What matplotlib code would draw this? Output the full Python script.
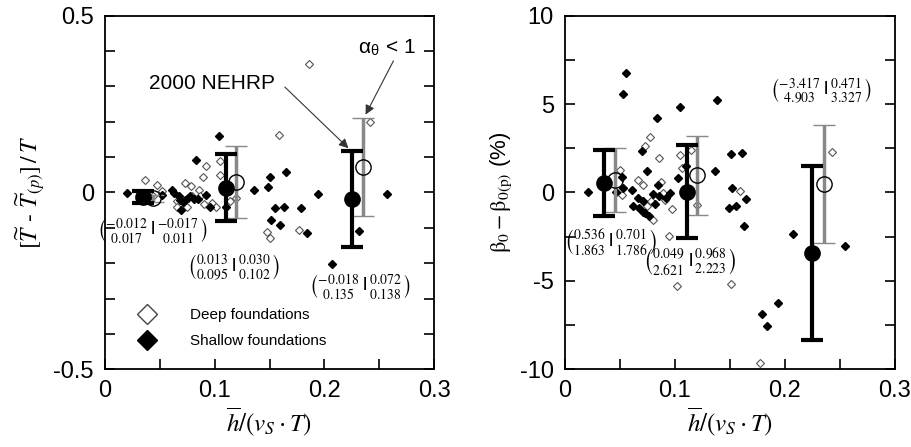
import matplotlib
matplotlib.use("Agg")
import matplotlib.pyplot as plt
from matplotlib.lines import Line2D
from matplotlib.ticker import MultipleLocator

plt.rcParams['font.family'] = ['Liberation Sans', 'DejaVu Sans']
plt.rcParams['mathtext.fontset'] = 'stix'

# ---- left panel: period error ----
shallow_x_T = [0.0198, 0.032, 0.038, 0.0524, 0.0609, 0.063, 0.067, 0.0685, 0.0694, 0.071,
               0.073, 0.0755, 0.0777, 0.0807, 0.083, 0.0847, 0.0923, 0.0953, 0.104, 0.110,
               0.136, 0.149, 0.1508, 0.151, 0.155, 0.160, 0.163, 0.165, 0.179, 0.184,
               0.194, 0.207, 0.232, 0.257]
shallow_y_T = [-0.002, -0.011, -0.016, -0.007, 0.006, -0.002, -0.011, -0.021, -0.049, -0.028,
               -0.021, -0.017, -0.011, -0.019, 0.092, -0.019, -0.007, -0.040, 0.160, -0.040,
               0.008, 0.014, 0.043, -0.077, -0.044, -0.091, -0.041, 0.058, -0.045, -0.115,
               -0.005, -0.202, -0.110, -0.004]
deep_x_T = [0.0362, 0.0478, 0.0435, 0.052, 0.0655, 0.066, 0.0725, 0.0746, 0.0786, 0.079,
            0.086, 0.0868, 0.0892, 0.0898, 0.0923, 0.0975, 0.1014, 0.1045, 0.105, 0.114,
            0.1197, 0.159, 0.1477, 0.1508, 0.1767, 0.1858, 0.242]
deep_y_T = [0.034, 0.020, -0.011, 0.003, -0.025, -0.040, 0.026, -0.040, 0.017, -0.011,
            0.008, -0.011, 0.045, -0.032, 0.076, -0.030, -0.041, 0.090, 0.048, -0.025,
            -0.015, 0.163, -0.112, -0.129, -0.106, 0.363, 0.198]

# bin statistics (mean, std): black = 2000 NEHRP, gray = alpha_theta < 1
nehrp_x_T = [0.035, 0.110, 0.2248]
nehrp_mean_T = [-0.012, 0.013, -0.018]
nehrp_std_T = [0.017, 0.095, 0.135]
alpha_x_T = [0.044, 0.1197, 0.2354]
alpha_mean_T = [-0.017, 0.030, 0.072]
alpha_std_T = [0.011, 0.102, 0.138]

# ---- right panel: damping error ----
shallow_x_B = [0.0206, 0.0464, 0.0515, 0.053, 0.053, 0.0552, 0.0612, 0.0621, 0.0667, 0.0673,
               0.0697, 0.0706, 0.0712, 0.0727, 0.0742, 0.0767, 0.0797, 0.0818, 0.0833, 0.0842,
               0.0858, 0.0918, 0.0955, 0.103, 0.1045, 0.110, 0.136, 0.1385, 0.1506, 0.1515,
               0.1494, 0.1555, 0.1606, 0.163, 0.165, 0.179, 0.184, 0.194, 0.2076, 0.255]
shallow_y_B = [0.0, 0.0, 0.90, 5.56, 0.25, 6.75, 0.11, -0.75, -0.34, -0.90,
               2.32, -1.13, -0.51, -1.17, 1.24, -1.32, -0.09, -0.64, 4.20, 0.43,
               -0.23, -0.32, -0.04, 0.81, 4.83, 1.51, 1.24, 5.24, 2.20, 0.25,
               -0.89, -0.75, 2.24, -1.89, -0.38, -6.88, -7.58, -6.26, -2.36, -3.02]
deep_x_B = [0.050, 0.0515, 0.0667, 0.0706, 0.0727, 0.0773, 0.0742, 0.0782, 0.0803, 0.0858,
            0.0873, 0.0894, 0.0909, 0.0948, 0.0973, 0.1015, 0.1045, 0.106, 0.1142, 0.1197,
            0.1509, 0.159, 0.1773, 0.243]
deep_y_B = [1.28, -0.13, 0.72, 0.43, 2.64, 3.11, -0.79, -0.51, -1.55, 1.94,
            0.57, -0.04, -0.41, -2.49, -0.94, -5.32, 2.13, 1.38, 2.38, -0.70,
            -5.16, 0.06, -9.65, 2.26]

nehrp_x_B = [0.0355, 0.1106, 0.2248]
nehrp_mean_B = [0.536, 0.049, -3.417]
nehrp_std_B = [1.863, 2.621, 4.903]
alpha_x_B = [0.0455, 0.1203, 0.2358]
alpha_mean_B = [0.701, 0.968, 0.471]
alpha_std_B = [1.786, 2.223, 3.327]

fig = plt.figure(figsize=(9.11, 4.47), dpi=100)
axL = fig.add_axes([0.1153, 0.174, 0.3611, 0.791])
axR = fig.add_axes([0.6202, 0.174, 0.3622, 0.791])


def matrix_label(a, b, c, d):
    return (r'$\left(\genfrac{}{}{0}{}{%s}{%s}\,\mathbf{|}\,\genfrac{}{}{0}{}{%s}{%s}\right)$'
            % (a, c, b, d))


def draw_panel(ax, sx, sy, dx, dy, nx, nm, ns, ax_, am, as_):
    ax.plot(dx, dy, 'D', ms=4, mfc='white', mec='#555555', mew=0.8, ls='none', zorder=2)
    ax.plot(sx, sy, 'D', ms=4.5, mfc='black', mec='black', ls='none', zorder=3)
    ax.errorbar(nx, nm, yerr=ns, fmt='o', ms=11, mfc='black', mec='black',
                ecolor='black', elinewidth=3, capsize=8, capthick=3, zorder=5)
    ax.errorbar(ax_, am, yerr=as_, fmt='o', ms=11, mfc='none', mec='black', mew=1,
                ecolor='#888888', elinewidth=2.5, capsize=8, capthick=2.5, zorder=4)
    ax.set_xlim(0, 0.3)
    ax.set_xticks([0, 0.1, 0.2, 0.3])
    ax.set_xticklabels(['0', '0.1', '0.2', '0.3'])
    ax.xaxis.set_minor_locator(MultipleLocator(0.05))
    ax.tick_params(which='both', direction='in', length=7, width=1.2,
                   right=True, top=False, labelsize=17, pad=8)
    for sp in ax.spines.values():
        sp.set_linewidth(1.3)
    ax.set_xlabel(r'$\overline{h}/(v_S\cdot T)$', fontsize=18, labelpad=2)


# left
draw_panel(axL, shallow_x_T, shallow_y_T, deep_x_T, deep_y_T,
           nehrp_x_T, nehrp_mean_T, nehrp_std_T, alpha_x_T, alpha_mean_T, alpha_std_T)
axL.set_ylim(-0.5, 0.5)
axL.set_yticks([-0.5, 0, 0.5])
axL.set_yticklabels(['-0.5', '0', '0.5'])
axL.yaxis.set_minor_locator(MultipleLocator(0.1))
axL.set_ylabel(r'$[\widetilde{T}$ - $\widetilde{T}_{(p)}]\,/\,T$', fontsize=17, labelpad=4)

axL.text(0.0975, 0.309, '2000 NEHRP', fontsize=15, ha='center', va='center')
axL.annotate('', xy=(0.222, 0.125), xytext=(0.164, 0.298),
             arrowprops=dict(arrowstyle='-|>', color='#333333', lw=0.8,
                             shrinkA=0, shrinkB=0, mutation_scale=14))
axL.text(0.257, 0.41, r'α$_\mathregular{θ}$ < 1', fontsize=15, ha='center', va='center')
axL.annotate('', xy=(0.2376, 0.22), xytext=(0.263, 0.372),
             arrowprops=dict(arrowstyle='-|>', color='#333333', lw=0.8,
                             shrinkA=0, shrinkB=0, mutation_scale=14))

matT = [(0.0438, -0.108), (0.117, -0.214), (0.232, -0.266)]
for (mx, my), m1, s1, m2, s2 in zip(matT, nehrp_mean_T, nehrp_std_T, alpha_mean_T, alpha_std_T):
    axL.text(mx, my, matrix_label('%.3f' % m1, '%.3f' % m2, '%.3f' % s1, '%.3f' % s2),
             fontsize=14, ha='center', va='center')

legend_handles = [
    Line2D([], [], marker='D', ls='none', ms=10, mfc='white', mec='#444444', mew=1),
    Line2D([], [], marker='D', ls='none', ms=10, mfc='black', mec='black'),
]
axL.legend(legend_handles, ['Deep foundations', 'Shallow foundations'],
           loc='lower left', bbox_to_anchor=(0.04, 0.02), frameon=False,
           fontsize=11, handletextpad=1.8, labelspacing=0.8)

# right
draw_panel(axR, shallow_x_B, shallow_y_B, deep_x_B, deep_y_B,
           nehrp_x_B, nehrp_mean_B, nehrp_std_B, alpha_x_B, alpha_mean_B, alpha_std_B)
axR.set_ylim(-10, 10)
axR.set_yticks([-10, -5, 0, 5, 10])
axR.set_yticklabels(['-10', '-5', '0', '5', '10'])
axR.yaxis.set_minor_locator(MultipleLocator(2.5))
axR.set_ylabel(r'$\mathrm{\beta_0 - \beta_{0(p)}}$ (%)', fontsize=16, labelpad=4)

matB = [(0.0415, -2.87), (0.1136, -3.9), (0.2327, 5.71)]
for (mx, my), m1, s1, m2, s2 in zip(matB, nehrp_mean_B, nehrp_std_B, alpha_mean_B, alpha_std_B):
    axR.text(mx, my, matrix_label('%.3f' % m1, '%.3f' % m2, '%.3f' % s1, '%.3f' % s2),
             fontsize=14, ha='center', va='center')

fig.savefig('out.png', dpi=100)
